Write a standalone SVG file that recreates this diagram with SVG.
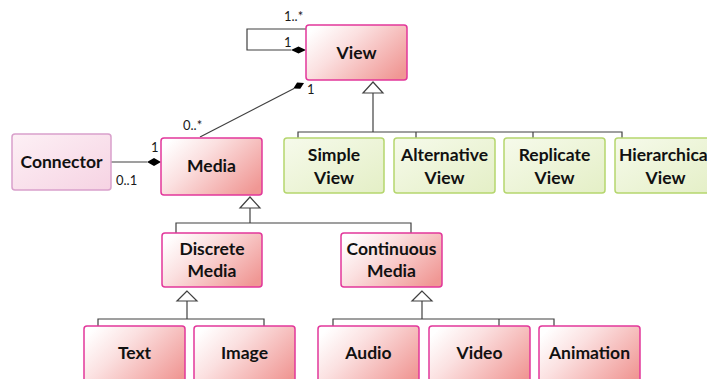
<svg xmlns="http://www.w3.org/2000/svg" width="707" height="379" viewBox="0 0 707 379">
<defs>
<linearGradient id="pink" x1="0" y1="0.2" x2="1" y2="0.8">
<stop offset="0" stop-color="#ffffff"/><stop offset="0.35" stop-color="#fbe0e0"/><stop offset="1" stop-color="#f09794"/>
</linearGradient>
<linearGradient id="green" x1="0" y1="0" x2="1" y2="1">
<stop offset="0" stop-color="#f6faeb"/><stop offset="1" stop-color="#e4efc6"/>
</linearGradient>
<linearGradient id="lpink" x1="0" y1="0" x2="1" y2="1">
<stop offset="0" stop-color="#fdf0f5"/><stop offset="1" stop-color="#f6d3e3"/>
</linearGradient>
</defs>
<style>
.p{fill:url(#pink);stroke:#e2379b;stroke-width:1.5}
.g{fill:url(#green);stroke:#b5d66e;stroke-width:1.5}
.c{fill:url(#lpink);stroke:#d9a0cb;stroke-width:1.5}
.t{font-family:Lato,"Liberation Sans",sans-serif;font-weight:bold;font-size:17.5px;fill:#111;text-anchor:middle}
.m{font-family:Lato,"Liberation Sans",sans-serif;font-size:13px;fill:#1a1a1a}
.l{fill:none;stroke:#404040;stroke-width:1.2}
.tri{fill:#fff;stroke:#404040;stroke-width:1.2}
.d{fill:#000}
</style>
<g id="connectors">
<polyline class="l" points="306,29 247,29 247,50 291,50"/>
<polygon class="d" points="306,50 298.5,46.5 291,50 298.5,53.5"/>
<line class="l" x1="200" y1="137" x2="294" y2="88.5"/>
<polygon class="d" points="304,83 297.1,82.6 293.3,88.5 300.3,88.8"/>
<line class="l" x1="111" y1="162" x2="147" y2="162"/>
<polygon class="d" points="161,162 154,158 147,162 154,166"/>
<polyline class="l" points="298,138 298,132 622,132 622,138"/>
<line class="l" x1="416" y1="132" x2="416" y2="138"/>
<line class="l" x1="533" y1="132" x2="533" y2="138"/>
<line class="l" x1="373" y1="132" x2="373" y2="93"/>
<polygon class="tri" points="373,82 363,93 383,93"/>
<polyline class="l" points="176,233 176,223 411,223 411,233"/>
<line class="l" x1="250" y1="223" x2="250" y2="208"/>
<polygon class="tri" points="250,197 240,208 260,208"/>
<polyline class="l" points="98,326 98,319 264,319 264,326"/>
<line class="l" x1="187" y1="319" x2="187" y2="301"/>
<polygon class="tri" points="187,291 177,301 197,301"/>
<polyline class="l" points="333,326 333,319 554,319 554,326"/>
<line class="l" x1="499" y1="319" x2="499" y2="326"/>
<line class="l" x1="422" y1="319" x2="422" y2="301"/>
<polygon class="tri" points="422,291 412,301 432,301"/>
<text class="m" x="284" y="21">1..*</text>
<text class="m" x="284" y="47">1</text>
<text class="m" x="307" y="94">1</text>
<text class="m" x="183" y="130">0..*</text>
<text class="m" x="151" y="152">1</text>
<text class="m" x="116" y="185">0..1</text>
</g>
<g id="view"><rect class="p" x="306" y="25" width="101" height="55" rx="3"/><text class="t" x="356.5" y="59">View</text></g>
<g id="media"><rect class="p" x="161" y="138" width="101" height="57" rx="3"/><text class="t" x="211.5" y="172">Media</text></g>
<g id="connector"><rect class="c" x="12" y="134" width="99" height="56" rx="3"/><text class="t" x="61.5" y="168">Connector</text></g>
<g id="simple-view"><rect class="g" x="284" y="138" width="100" height="55" rx="3"/><text class="t" x="334" y="161">Simple</text><text class="t" x="334" y="184">View</text></g>
<g id="alternative-view"><rect class="g" x="394" y="138" width="101" height="55" rx="3"/><text class="t" x="444.5" y="161">Alternative</text><text class="t" x="444.5" y="184">View</text></g>
<g id="replicate-view"><rect class="g" x="504" y="138" width="101" height="55" rx="3"/><text class="t" x="554.5" y="161">Replicate</text><text class="t" x="554.5" y="184">View</text></g>
<g id="hierarchical-view"><rect class="g" x="615" y="138" width="101" height="55" rx="3"/><text class="t" x="665.5" y="161">Hierarchical</text><text class="t" x="665.5" y="184">View</text></g>
<g id="discrete-media"><rect class="p" x="162" y="233" width="100" height="54" rx="3"/><text class="t" x="212" y="255">Discrete</text><text class="t" x="212" y="277">Media</text></g>
<g id="continuous-media"><rect class="p" x="341" y="233" width="101" height="54" rx="3"/><text class="t" x="391.5" y="255">Continuous</text><text class="t" x="391.5" y="277">Media</text></g>
<g id="text"><rect class="p" x="84" y="326" width="101" height="60" rx="3"/><text class="t" x="134.5" y="359">Text</text></g>
<g id="image"><rect class="p" x="194" y="326" width="101" height="60" rx="3"/><text class="t" x="244.5" y="359">Image</text></g>
<g id="audio"><rect class="p" x="318" y="326" width="101" height="60" rx="3"/><text class="t" x="368.5" y="359">Audio</text></g>
<g id="video"><rect class="p" x="429" y="326" width="101" height="60" rx="3"/><text class="t" x="479.5" y="359">Video</text></g>
<g id="animation"><rect class="p" x="539" y="326" width="101" height="60" rx="3"/><text class="t" x="589.5" y="359">Animation</text></g>
</svg>
